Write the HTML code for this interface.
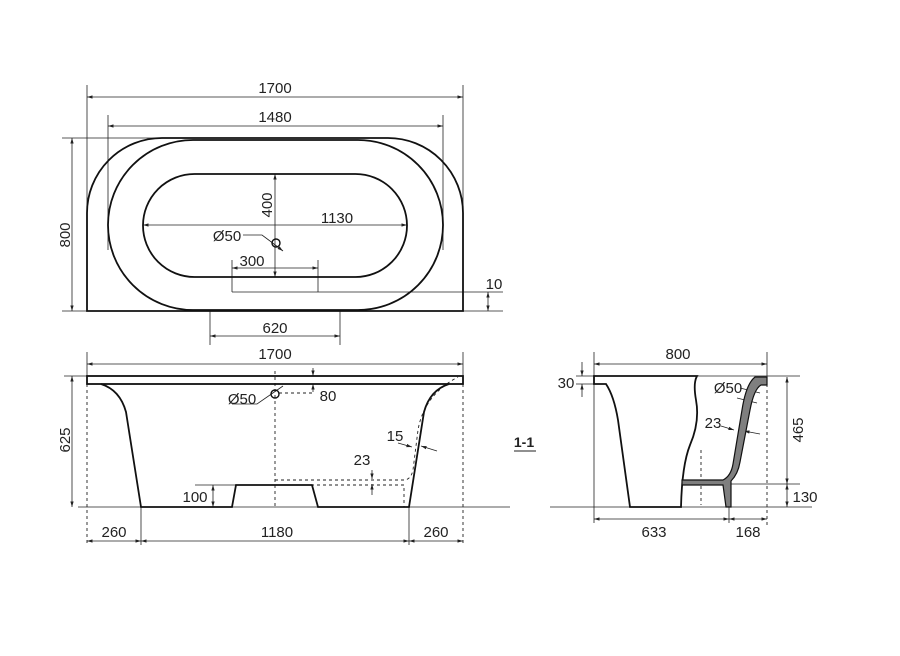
<!DOCTYPE html>
<html><head><meta charset="utf-8"><style>
html,body{margin:0;padding:0;background:#fff;}
svg{display:block;}
text{font-family:"Liberation Sans",sans-serif;font-size:15px;fill:#222;text-anchor:middle;}
</style></head><body>
<svg width="900" height="656" viewBox="0 0 900 656" xmlns="http://www.w3.org/2000/svg">
<defs>
<marker id="a" viewBox="0 0 10 10" refX="10" refY="5" markerWidth="7" markerHeight="7" orient="auto-start-reverse"><path d="M0,2 L10,5 L0,8 Z" fill="#222"/></marker>
</defs>
<g stroke="#222" stroke-width="0.8" fill="none">
<line x1="87" y1="85" x2="87" y2="311"/><line x1="463" y1="85" x2="463" y2="311"/>
<line x1="87" y1="97" x2="463" y2="97" marker-start="url(#a)" marker-end="url(#a)"/>
<line x1="108" y1="115" x2="108" y2="250"/><line x1="443" y1="115" x2="443" y2="250"/>
<line x1="108" y1="126" x2="443" y2="126" marker-start="url(#a)" marker-end="url(#a)"/>
<line x1="62" y1="138" x2="160" y2="138"/><line x1="62" y1="311" x2="87" y2="311"/>
<line x1="72" y1="138" x2="72" y2="311" marker-start="url(#a)" marker-end="url(#a)"/>
<line x1="275" y1="174" x2="275" y2="277" marker-start="url(#a)" marker-end="url(#a)"/>
<line x1="143" y1="225" x2="407" y2="225" marker-start="url(#a)" marker-end="url(#a)"/>
<line x1="232" y1="260" x2="232" y2="292"/><line x1="318" y1="260" x2="318" y2="292"/>
<line x1="232" y1="268" x2="318" y2="268" marker-start="url(#a)" marker-end="url(#a)"/>
<line x1="232" y1="292" x2="503" y2="292"/>
<line x1="463" y1="311" x2="503" y2="311"/>
<line x1="488" y1="292" x2="488" y2="311" marker-start="url(#a)" marker-end="url(#a)"/>
<line x1="210" y1="311" x2="210" y2="345"/><line x1="340" y1="311" x2="340" y2="345"/>
<line x1="210" y1="336" x2="340" y2="336" marker-start="url(#a)" marker-end="url(#a)"/>
<path d="M243,235 H262 L270,241"/><line x1="270" y1="241" x2="283" y2="251" marker-end="url(#a)"/>
</g>
<g stroke="#111" stroke-width="1.8" fill="none">
<path d="M87,311 V213 A75,75 0 0 1 162,138 H388 A75,75 0 0 1 463,213 V311 Z"/>
<rect x="108" y="140" width="335" height="170" rx="85"/>
<rect x="143" y="174" width="264" height="103" rx="51.5"/>
<circle cx="276" cy="243" r="4" stroke-width="1.4"/>
</g>
<text x="275" y="93">1700</text><text x="275" y="122">1480</text>
<text x="0" y="0" transform="translate(70,235) rotate(-90)">800</text>
<text x="0" y="0" transform="translate(272,205) rotate(-90)">400</text>
<text x="337" y="223">1130</text><text x="227" y="241">Ø50</text>
<text x="252" y="266">300</text><text x="494" y="289">10</text><text x="275" y="333">620</text>

<!-- SIDE VIEW -->
<g stroke="#222" stroke-width="0.8" fill="none">
<line x1="87" y1="352" x2="87" y2="376"/><line x1="463" y1="352" x2="463" y2="376"/>
<line x1="87" y1="364" x2="463" y2="364" marker-start="url(#a)" marker-end="url(#a)"/>
<line x1="64" y1="376" x2="87" y2="376"/>
<line x1="72" y1="376" x2="72" y2="507" marker-start="url(#a)" marker-end="url(#a)"/>
<line x1="78" y1="507" x2="510" y2="507"/>
<line x1="195" y1="485" x2="236" y2="485"/>
<line x1="213" y1="485" x2="213" y2="507" marker-start="url(#a)" marker-end="url(#a)"/>
<line x1="141" y1="507" x2="141" y2="545"/><line x1="409" y1="507" x2="409" y2="545"/>
<line x1="87" y1="541" x2="141" y2="541" marker-start="url(#a)" marker-end="url(#a)"/>
<line x1="141" y1="541" x2="409" y2="541" marker-start="url(#a)" marker-end="url(#a)"/>
<line x1="409" y1="541" x2="463" y2="541" marker-start="url(#a)" marker-end="url(#a)"/>
<line x1="313" y1="368" x2="313" y2="376" marker-end="url(#a)"/><line x1="313" y1="392" x2="313" y2="384" marker-end="url(#a)"/>
<line x1="372" y1="470" x2="372" y2="479" marker-end="url(#a)"/><line x1="372" y1="495" x2="372" y2="484" marker-end="url(#a)"/>
<path d="M398,443 L412,447" marker-end="url(#a)"/><path d="M437,451 L421,446" marker-end="url(#a)"/>
<path d="M232,404 H257 L283,386"/>
</g>
<g stroke="#222" stroke-width="0.9" fill="none" stroke-dasharray="3,3">
<line x1="87" y1="384" x2="87" y2="545"/><line x1="463" y1="384" x2="463" y2="545"/>
<line x1="275" y1="371" x2="275" y2="507"/>
<line x1="279" y1="393" x2="312" y2="393"/>
<path d="M275,480 H405 Q411,479 413,470 L418,430 Q424,395 458,377"/>
<path d="M275,485 H404 V507"/>
</g>
<g stroke="#111" stroke-width="1.8" fill="none">
<rect x="87" y="376" width="376" height="8"/>
<path d="M101,384 Q120,390 126,412 L141,507 H232 L236,485 H312 L318,507 H409 L424,412 Q430,390 449,384"/>
<circle cx="275" cy="394" r="4" stroke-width="1.4"/>
</g>
<text x="275" y="359">1700</text>
<text x="0" y="0" transform="translate(70,440) rotate(-90)">625</text>
<text x="328" y="401">80</text><text x="242" y="404">Ø50</text>
<text x="395" y="441">15</text><text x="362" y="465">23</text>
<text x="195" y="502">100</text>
<text x="114" y="537">260</text><text x="277" y="537">1180</text><text x="436" y="537">260</text>
<text x="524" y="447" style="font-weight:bold;font-size:14px">1-1</text>
<line x1="514" y1="451" x2="536" y2="451" stroke="#222" stroke-width="1"/>

<!-- SECTION -->
<g stroke="#222" stroke-width="0.8" fill="none">
<line x1="594" y1="352" x2="594" y2="523"/><line x1="767" y1="352" x2="767" y2="376"/>
<line x1="594" y1="364" x2="767" y2="364" marker-start="url(#a)" marker-end="url(#a)"/>
<line x1="576" y1="376" x2="800" y2="376"/><line x1="576" y1="384" x2="594" y2="384"/>
<line x1="582" y1="362" x2="582" y2="376" marker-end="url(#a)"/><line x1="582" y1="397" x2="582" y2="384" marker-end="url(#a)"/>
<line x1="787" y1="377" x2="787" y2="484" marker-start="url(#a)" marker-end="url(#a)"/>
<line x1="787" y1="484" x2="787" y2="507" marker-start="url(#a)" marker-end="url(#a)"/>
<line x1="720" y1="484" x2="800" y2="484"/>
<line x1="550" y1="507" x2="812" y2="507"/>
<line x1="729" y1="507" x2="729" y2="523"/>
<line x1="594" y1="519" x2="729" y2="519" marker-start="url(#a)" marker-end="url(#a)"/>
<line x1="729" y1="519" x2="767" y2="519" marker-start="url(#a)" marker-end="url(#a)"/>
<path d="M740,388 L760,393"/><path d="M737,398 L757,403"/>
<line x1="721" y1="426" x2="734" y2="430" marker-end="url(#a)"/><line x1="760" y1="434" x2="744" y2="431" marker-end="url(#a)"/>
</g>
<g stroke="#222" stroke-width="0.9" fill="none" stroke-dasharray="3,3">
<line x1="767" y1="384" x2="767" y2="528"/>
<line x1="701" y1="450" x2="701" y2="505"/>
</g>
<g stroke="#111" stroke-width="1.8" fill="none">
<path d="M594,376 H697 Q693,383 696,400 Q700,422 690,445 Q682,465 681,507 H630 L618,420 Q614,396 606,384 H594 Z"/>
</g>
<path d="M755,377 L767,377 L767,385 L761,385 Q754,389 750,410 L740,462 Q738,474 731,481 L731,507 L726,507 L723,485 L682,485 L682,480 L723,480 Q731,476 733,464 L742,410 Q746,384 755,377 Z" fill="#7f7f7f" stroke="#111" stroke-width="1.2"/>
<text x="678" y="359">800</text><text x="566" y="388">30</text>
<text x="728" y="393">Ø50</text><text x="713" y="428">23</text>
<text x="0" y="0" transform="translate(803,430) rotate(-90)">465</text>
<text x="805" y="502">130</text>
<text x="654" y="537">633</text><text x="748" y="537">168</text>
</svg>
</body></html>
